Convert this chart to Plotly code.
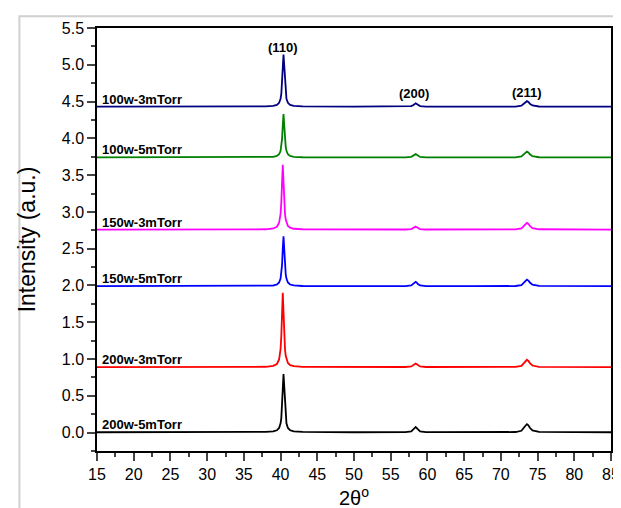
import plotly.graph_objects as go

two_theta = [15, 30, 38.0, 39.0, 39.5, 39.8, 40.0, 40.1, 40.2, 40.3, 40.4, 40.5, 40.6, 40.7, 40.8, 41.0, 41.3, 41.8, 43.0,
             50, 57.0, 57.8, 58.1, 58.25, 58.4, 58.55, 58.7, 59.0, 59.8,
             66, 72.0, 72.8, 73.15, 73.35, 73.55, 73.75, 73.95, 74.3, 75.2, 85]

i_100w_3m = [4.43, 4.43, 4.434, 4.441, 4.454, 4.483, 4.539, 4.603, 4.728, 4.958, 5.14, 4.958, 4.728, 4.603, 4.539, 4.483, 4.454, 4.441, 4.434,
             4.43, 4.431, 4.438, 4.453, 4.466, 4.475, 4.466, 4.453, 4.438, 4.431,
             4.43, 4.432, 4.444, 4.468, 4.49, 4.505, 4.494, 4.471, 4.447, 4.433, 4.43]
i_100w_5m = [3.74, 3.74, 3.743, 3.749, 3.760, 3.784, 3.830, 3.883, 3.988, 4.178, 4.33, 4.178, 3.988, 3.883, 3.830, 3.784, 3.760, 3.749, 3.743,
             3.74, 3.741, 3.748, 3.763, 3.776, 3.785, 3.776, 3.763, 3.748, 3.741,
             3.74, 3.742, 3.754, 3.78, 3.804, 3.82, 3.808, 3.784, 3.758, 3.743, 3.74]
i_150w_3m = [2.76, 2.76, 2.764, 2.775, 2.798, 2.852, 2.974, 3.130, 3.414, 3.64, 3.414, 3.130, 2.974, 2.895, 2.852, 2.809, 2.785, 2.771, 2.764,
             2.76, 2.761, 2.767, 2.78, 2.792, 2.80, 2.792, 2.78, 2.767, 2.761,
             2.76, 2.763, 2.776, 2.805, 2.832, 2.85, 2.837, 2.81, 2.78, 2.764, 2.76]
i_150w_5m = [1.99, 1.99, 1.993, 2.0, 2.013, 2.04, 2.094, 2.155, 2.276, 2.495, 2.67, 2.495, 2.276, 2.155, 2.094, 2.04, 2.013, 2.0, 1.993,
             1.99, 1.992, 2.001, 2.02, 2.038, 2.05, 2.038, 2.02, 2.001, 1.992,
             1.99, 1.993, 2.006, 2.035, 2.062, 2.08, 2.067, 2.04, 2.01, 1.994, 1.99]
i_200w_3m = [0.89, 0.89, 0.895, 0.907, 0.933, 0.995, 1.135, 1.314, 1.64, 1.90, 1.64, 1.314, 1.135, 1.045, 0.995, 0.947, 0.918, 0.903, 0.894,
             0.89, 0.892, 0.899, 0.915, 0.93, 0.94, 0.93, 0.915, 0.899, 0.892,
             0.89, 0.893, 0.908, 0.94, 0.97, 0.99, 0.975, 0.945, 0.912, 0.894, 0.89]
i_200w_5m = [0.005, 0.005, 0.009, 0.017, 0.032, 0.063, 0.126, 0.197, 0.337, 0.592, 0.795, 0.592, 0.337, 0.197, 0.126, 0.063, 0.032, 0.017, 0.009,
             0.005, 0.007, 0.018, 0.04, 0.061, 0.075, 0.061, 0.04, 0.018, 0.007,
             0.005, 0.008, 0.025, 0.06, 0.093, 0.115, 0.099, 0.066, 0.029, 0.009, 0.005]

series_names = ["200w-5mTorr", "200w-3mTorr", "150w-5mTorr", "150w-3mTorr", "100w-5mTorr", "100w-3mTorr"]
series_values = [i_200w_5m, i_200w_3m, i_150w_5m, i_150w_3m, i_100w_5m, i_100w_3m]
series_baselines = [0.005, 0.89, 1.99, 2.76, 3.74, 4.43]
series_colors = ["#000000", "#FF0000", "#0000FF", "#FF00FF", "#008000", "#000080"]

peak_labels = ["(110)", "(200)", "(211)"]
peak_x = [40.3, 58.2, 73.6]
peak_y = [5.24, 4.61, 4.63]

FONT = "Arial, 'Liberation Sans', sans-serif"

fig = go.Figure()
for name, vals, col in zip(series_names, series_values, series_colors):
    fig.add_trace(go.Scatter(x=two_theta, y=vals, mode="lines", name=name,
                             line=dict(color=col, width=1.8), showlegend=False))

annotations = []
for name, base in zip(series_names, series_baselines):
    annotations.append(dict(x=15.35, y=base, xref="x", yref="y", text="<b>" + name + "</b>",
                            showarrow=False, xanchor="left", yanchor="bottom", yshift=-2,
                            font=dict(family=FONT, size=13, color="black")))
for lab, px, py in zip(peak_labels, peak_x, peak_y):
    annotations.append(dict(x=px, y=py, xref="x", yref="y", text="<b>" + lab + "</b>",
                            showarrow=False, xanchor="center", yanchor="middle",
                            font=dict(family=FONT, size=13, color="black")))

fig.update_layout(
    width=621, height=508,
    margin=dict(l=89, r=9, t=20, b=65),
    paper_bgcolor="white", plot_bgcolor="white",
    font=dict(family=FONT, size=16, color="black"),
    annotations=annotations,
    shapes=[dict(type="rect", xref="paper", yref="paper", x0=-0.151, x1=1.03, y0=-0.149, y1=1.028,
                 line=dict(color="#d0d0d0", width=2), fillcolor="rgba(0,0,0,0)", layer="below")],
    xaxis=dict(range=[15, 85], dtick=5, tick0=15, ticks="outside", ticklen=8, tickwidth=1.5,
               showline=True, linecolor="black", linewidth=1.5, mirror=True, showgrid=False, zeroline=False,
               minor=dict(dtick=2.5, ticks="outside", ticklen=4, tickwidth=1.5, showgrid=False),
               tickfont=dict(size=16),
               title=dict(text="2θ<sup>o</sup>", font=dict(size=20), standoff=9)),
    yaxis=dict(range=[-0.25, 5.5], dtick=0.5, tick0=0, tickformat=".1f", ticks="outside", ticklen=8, tickwidth=1.5,
               showline=True, linecolor="black", linewidth=1.5, mirror=True, showgrid=False, zeroline=False,
               minor=dict(dtick=0.25, ticks="outside", ticklen=4, tickwidth=1.5, showgrid=False),
               tickfont=dict(size=16),
               title=dict(text="Intensity (a.u.)", font=dict(size=23), standoff=20)),
)

fig.write_html("out.html")
